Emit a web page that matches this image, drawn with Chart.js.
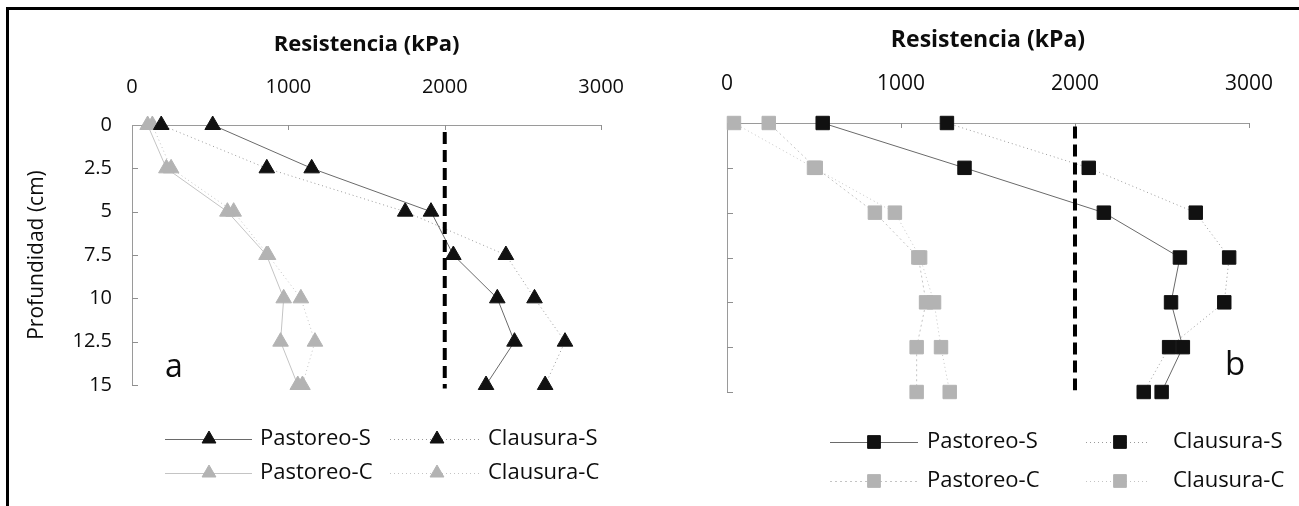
<!DOCTYPE html>
<html><head><meta charset="utf-8">
<script src="https://cdn.jsdelivr.net/npm/chart.js@4.4.1/dist/chart.umd.min.js"></script>
<style>
html,body{margin:0;padding:0;background:#fff;width:1299px;height:506px;overflow:hidden;}
#frameTop{position:absolute;left:6px;top:7px;width:1293px;height:3px;background:#000;}
#frameLeft{position:absolute;left:6px;top:7px;width:3px;height:499px;background:#000;}
#ca{position:absolute;left:0;top:0;}
#cb{position:absolute;left:650px;top:0;}
</style></head><body>
<canvas id="ca" width="650" height="506"></canvas>
<canvas id="cb" width="649" height="506"></canvas>
<div id="frameTop"></div><div id="frameLeft"></div>
<script>
// ---- data ----
const depths = [0, 2.5, 5, 7.5, 10, 12.5, 15];
const depthLabels = ['0', '2.5', '5', '7.5', '10', '12.5', '15'];
const resistanceTicks = [0, 1000, 2000, 3000];
const resistanceLabels = ['0', '1000', '2000', '3000'];
const seriesNames = ['Pastoreo-S', 'Clausura-S', 'Pastoreo-C', 'Clausura-C'];
const xTitle = 'Resistencia (kPa)';
const yTitle = 'Profundidad (cm)';
const threshold = 2000;

// panel a (triangles)
const a_pastoreoS = [516, 1149, 1912, 2055, 2336, 2446, 2264];
const a_clausuraS = [187, 862, 1747, 2391, 2574, 2769, 2642];
const a_pastoreoC = [100, 220, 610, 860, 970, 950, 1060];
const a_clausuraC = [130, 250, 650, 870, 1080, 1170, 1090];
const a_thresholdDepth = [0.4, 15.2];

// panel b (squares)
const b_pastoreoS = [550, 1365, 2166, 2603, 2552, 2620, 2498];
const b_clausuraS = [1264, 2079, 2694, 2886, 2858, 2541, 2395];
const b_pastoreoC = [240, 510, 850, 1100, 1144, 1090, 1090];
const b_clausuraC = [40, 500, 965, 1110, 1190, 1230, 1280];
const b_thresholdDepth = [0.2, 14.9];

const FONT = "'Open Sans', 'DejaVu Sans', sans-serif";
const TXT = '#0d0d0d';
function pts(vals){ return depths.map((d,i)=>({x: vals[i], y: d})); }

function makeDatasets(vals, marker, r, pCdash, thr){
  const black = '#111', gray = '#b3b3b3';
  return [
    {label:'threshold', data: thr.map(d=>({x: threshold, y: d})), borderColor:'#000', borderWidth:4,
     borderDash:[12,6], pointRadius:0, showLine:true, clip:false, isRef:true},
    {label: seriesNames[0], data: pts(vals[0]), pointStyle: marker, pointRadius: r, clip:false,
     pointBackgroundColor: black, pointBorderColor: black, borderColor:'#6a6a6a', borderWidth:1, showLine:true},
    {label: seriesNames[1], data: pts(vals[1]), pointStyle: marker, pointRadius: r, clip:false,
     pointBackgroundColor: black, pointBorderColor: black, borderColor:'#9a9a9a', borderWidth:1, borderDash:[1,3], showLine:true},
    {label: seriesNames[2], data: pts(vals[2]), pointStyle: marker, pointRadius: r, clip:false,
     pointBackgroundColor: gray, pointBorderColor: gray, borderColor:'#c4c4c4', borderWidth:1, borderDash:pCdash, showLine:true},
    {label: seriesNames[3], data: pts(vals[3]), pointStyle: marker, pointRadius: r, clip:false,
     pointBackgroundColor: gray, pointBorderColor: gray, borderColor:'#c4c4c4', borderWidth:1, borderDash:[1,3], showLine:true}
  ];
}

const decor = {
  id: 'decor',
  beforeDatasetsDraw(chart, args, o){
    const {ctx, chartArea:a, scales:{x, y}} = chart;
    ctx.save(); ctx.strokeStyle = '#8f8f8f'; ctx.lineWidth = 1; ctx.beginPath();
    x.ticks.forEach(t=>{ if (t.value === x.min) return; const px = Math.round(x.getPixelForValue(t.value)) + 0.5;
      ctx.moveTo(px, a.top); ctx.lineTo(px, a.top + 5); });
    y.ticks.forEach(t=>{ if (t.value === y.min) return; const py = Math.round(y.getPixelForValue(t.value)) + 0.5;
      ctx.moveTo(a.left, py); ctx.lineTo(a.left + 6, py); });
    ctx.stroke(); ctx.restore();
  },
  afterDraw(chart, args, o){
    const ctx = chart.ctx, a = chart.chartArea;
    ctx.save();
    ctx.fillStyle = TXT; ctx.textAlign = 'center'; ctx.textBaseline = 'middle';
    ctx.font = 'bold ' + o.titleSize + 'px ' + FONT;
    ctx.fillText(xTitle, (a.left + a.right) / 2, o.titleY);
    ctx.font = o.letterSize + 'px ' + FONT; ctx.textBaseline = 'alphabetic';
    ctx.fillText(o.letter, o.letterX, o.letterY);
    const items = chart.data.datasets.filter(d=>!d.isRef);
    ctx.font = o.legSize + 'px ' + FONT; ctx.textAlign = 'left'; ctx.textBaseline = 'middle';
    items.forEach((ds, i)=>{
      const col = i % 2, row = Math.floor(i / 2);
      const L = o.leg.cols[col], yy = o.leg.rows[row];
      ctx.save();
      ctx.strokeStyle = ds.borderColor; ctx.lineWidth = 1; ctx.setLineDash(ds.borderDash || []);
      ctx.beginPath(); ctx.moveTo(L.l0, yy + 0.5); ctx.lineTo(L.l1, yy + 0.5); ctx.stroke();
      ctx.restore();
      ctx.fillStyle = ds.pointBackgroundColor; ctx.strokeStyle = ds.pointBorderColor;
      Chart.helpers.drawPoint(ctx, {pointStyle: ds.pointStyle, radius: o.legR, rotation: 0, borderWidth: 1}, L.m, yy);
      ctx.fillStyle = TXT;
      ctx.fillText(ds.label, L.t, yy);
    });
    ctx.restore();
  }
};

function makeChart(id, vals, marker, r, pCdash, thr, geo, decorOpts){
  return new Chart(document.getElementById(id), {
    type: 'scatter',
    data: { datasets: makeDatasets(vals, marker, r, pCdash, thr) },
    plugins: [decor],
    options: {
      responsive: false, animation: false, devicePixelRatio: 1,
      layout: { padding: { left: 0, top: 0, right: geo.padRight, bottom: geo.padBottom } },
      plugins: { legend: {display:false}, tooltip: {enabled:false}, decor: decorOpts },
      scales: {
        x: { type:'linear', position:'top', min: 0, max: 3000,
             afterBuildTicks: s => { s.ticks = resistanceTicks.map(v=>({value:v})); },
             afterFit: s => { s.height = geo.top; },
             grid: { display:false, drawTicks:false },
             border: { display:true, color:'#9a9a9a', width:1 },
             ticks: { padding: geo.xTickPad, color: TXT, font:{family:FONT, size: geo.tickSize}, maxRotation:0,
                      callback: v => resistanceLabels[resistanceTicks.indexOf(v)] } },
        y: { type:'linear', reverse:true, min:0, max:15,
             afterBuildTicks: s => { s.ticks = depths.map(v=>({value:v})); },
             afterFit: s => { s.width = geo.left; },
             grid: { display:false, drawTicks:false },
             border: { display:true, color:'#9a9a9a', width:1 },
             title: { display: geo.showY, text: yTitle, color: TXT, font:{family:FONT, size:21}, padding:{top: 24, bottom: 0} },
             ticks: { display: geo.showY, padding: 20, color: TXT, font:{family:FONT, size: geo.tickSize},
                      callback: v => depthLabels[depths.indexOf(v)] } }
      }
    }
  });
}

makeChart('ca', [a_pastoreoS, a_clausuraS, a_pastoreoC, a_clausuraC], 'triangle', 9, [], a_thresholdDepth,
  {left:132, top:125, padRight:38, padBottom:121, xTickPad:26, tickSize:20, showY:true},
  {titleSize:22, titleY:45, letter:'a', letterX:174, letterY:377, letterSize:32, legSize:22, legR:8,
   leg:{cols:[{l0:165,l1:252,m:209,t:260},{l0:390,l1:480,m:437,t:488}], rows:[439,473]}});

makeChart('cb', [b_pastoreoS, b_clausuraS, b_pastoreoC, b_clausuraC], 'rect', 9.5, [2,3], b_thresholdDepth,
  {left:77, top:123, padRight:45, padBottom:114, xTickPad:26, tickSize:21, showY:false},
  {titleSize:23, titleY:40, letter:'b', letterX:585, letterY:375, letterSize:33, legSize:22, legR:9,
   leg:{cols:[{l0:180,l1:268,m:224,t:277},{l0:436,l1:500,m:470,t:523}], rows:[442,481]}});
</script>
</body></html>
